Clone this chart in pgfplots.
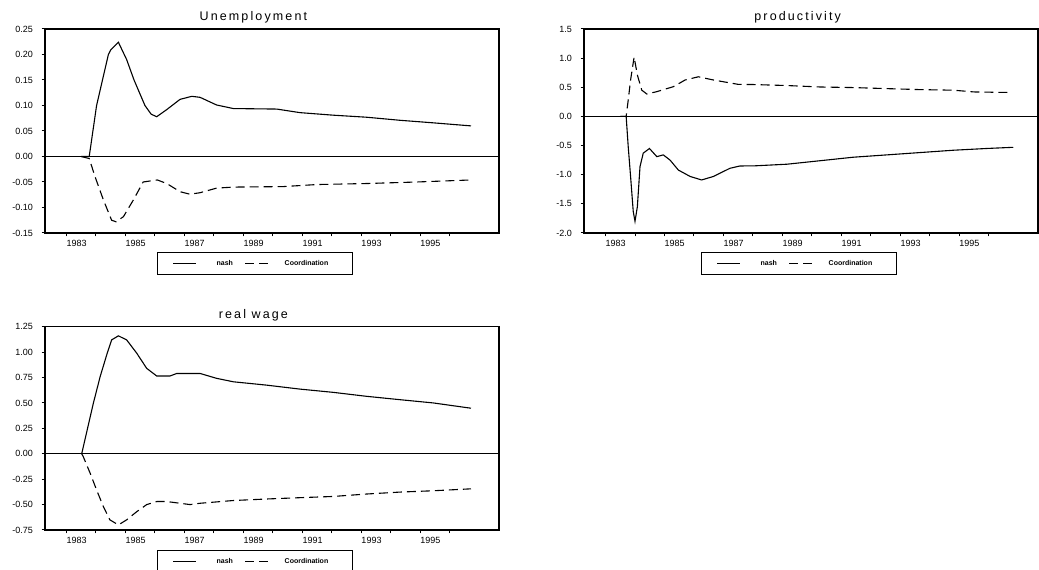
\documentclass[border=0pt]{standalone}
\usepackage{pgfplots}
\pgfplotsset{compat=1.18}
\usepackage{fontspec}
\setmainfont{Liberation Sans}
\newfontfamily\titlefont[LetterSpace=17]{Liberation Sans}

\pgfplotsset{
  nash/.style={black, solid, line width=1.1pt},
  coord/.style={black, line width=1.1pt, dash pattern=on 9pt off 5pt},
  eviews/.style={
    scale only axis, width=454pt, height=204pt,
    xmin=1982.27, xmax=1997.67,
    axis line style={line width=1.2pt},
    tick align=outside, major tick length=3.5pt,
    tick style={line width=1pt, black},
    xtick={1983,...,1996},
    xticklabels={1983,,1985,,1987,,1989,,1991,,1993,,1995,},
    xtick pos=bottom, ytick pos=left,
    ticklabel style={font=\fontsize{9}{10}\selectfont},
    xticklabel style={anchor=north west, inner sep=0pt, yshift=-4pt},
    yticklabel style={anchor=east, inner sep=0pt, xshift=-8.5pt},
    title style={font=\titlefont\fontsize{12.5}{14}\selectfont, anchor=base, inner sep=0pt, yshift=2.3pt},
    legend style={draw=black, line width=1pt, font=\fontsize{7}{8}\selectfont\bfseries,
      legend columns=2, inner xsep=15pt, inner ysep=0pt, nodes={inner sep=0pt}, column sep=0pt},
    legend cell align=left,
    legend image code/.code={\path[draw=none,fill=none] (0pt,-11pt) rectangle (0.1pt,11pt); \draw[##1,line width=1.1pt] (0pt,0pt) -- (23pt,0pt);},
  }
}

\begin{document}
\begin{tikzpicture}[x=1pt,y=1pt]
\useasboundingbox (0,0) rectangle (1039,570);

% Unemployment
\begin{axis}[eviews, at={(45pt,337pt)}, anchor=south west,
  ymin=-0.15, ymax=0.25,
  ytick={-0.15,-0.10,-0.05,0,0.05,0.10,0.15,0.20,0.25},
  yticklabels={-0.15,-0.10,-0.05,0.00,0.05,0.10,0.15,0.20,0.25},
  title={Unemployment}, title style={at={(0.459,1)}},
  legend style={at={(0.2467,-0.0931)}, anchor=north west},
]
\addplot[nash] coordinates {(1983.5,0) (1983.77,0.0) (1984.02,0.10) (1984.42,0.20) (1984.50,0.209) (1984.76,0.224) (1985.04,0.19) (1985.29,0.15) (1985.66,0.10) (1985.87,0.083) (1986.06,0.078) (1986.40,0.092) (1986.85,0.112) (1987.25,0.118) (1987.53,0.116) (1988.09,0.101) (1988.66,0.094) (1990.13,0.093) (1990.92,0.086) (1992.05,0.081) (1993.18,0.077) (1994.31,0.071) (1995.44,0.066) (1996.72,0.060)};
\addlegendentry{\hspace*{20pt}nash\hspace*{11.7pt}}
\addplot[coord] coordinates {(1983.5,0) (1983.77,-0.004) (1983.97,-0.040) (1984.25,-0.085) (1984.53,-0.125) (1984.68,-0.128) (1984.93,-0.118) (1985.27,-0.085) (1985.60,-0.050) (1986.08,-0.046) (1986.40,-0.053) (1986.85,-0.069) (1987.19,-0.074) (1987.53,-0.071) (1988.09,-0.062) (1988.66,-0.060) (1990.35,-0.059) (1991.49,-0.055) (1993.18,-0.053) (1994.88,-0.050) (1996.72,-0.046)};
\addlegendentry{\hspace*{16pt}Coordination\hspace*{9pt}}
\addplot[black, line width=1.2pt, forget plot] coordinates {(1982.27,0) (1997.67,0)};
\end{axis}

% productivity
\begin{axis}[eviews, at={(584pt,337pt)}, anchor=south west,
  ymin=-2.0, ymax=1.5,
  ytick={-2.0,-1.5,-1.0,-0.5,0,0.5,1.0,1.5},
  yticklabels={-2.0,-1.5,-1.0,-0.5,0.0,0.5,1.0,1.5},
  title={productivity}, title style={at={(0.4707,1)}},
  legend style={at={(0.2577,-0.0931)}, anchor=north west},
]
\addplot[nash] coordinates {(1983.5,0) (1983.70,0.0) (1983.77,-0.52) (1983.85,-1.03) (1983.94,-1.63) (1984.00,-1.80) (1984.08,-1.55) (1984.17,-0.86) (1984.28,-0.63) (1984.49,-0.55) (1984.74,-0.69) (1984.96,-0.66) (1985.19,-0.75) (1985.47,-0.92) (1985.87,-1.03) (1986.26,-1.09) (1986.66,-1.03) (1987.22,-0.89) (1987.56,-0.85) (1988.01,-0.849) (1989.15,-0.82) (1990.28,-0.76) (1991.40,-0.70) (1992.54,-0.66) (1993.67,-0.62) (1994.80,-0.58) (1995.93,-0.55) (1996.83,-0.53)};
\addlegendentry{\hspace*{20pt}nash\hspace*{11.7pt}}
\addplot[coord] coordinates {(1983.5,0) (1983.70,0.0) (1983.77,0.28) (1983.85,0.625) (1983.97,1.02) (1984.08,0.71) (1984.23,0.45) (1984.40,0.385) (1984.74,0.425) (1985.30,0.51) (1985.70,0.625) (1986.15,0.68) (1986.66,0.625) (1987.22,0.575) (1987.5,0.55) (1988.01,0.547) (1989.15,0.53) (1990.28,0.505) (1991.40,0.495) (1992.54,0.477) (1993.67,0.46) (1994.80,0.45) (1995.5,0.42) (1996.8,0.41)};
\addlegendentry{\hspace*{16pt}Coordination\hspace*{9pt}}
\addplot[black, line width=1.2pt, forget plot] coordinates {(1982.27,0) (1997.67,0)};
\end{axis}

% real wage
\begin{axis}[eviews, at={(45pt,40pt)}, anchor=south west, height=203.3pt,
  ymin=-0.75, ymax=1.25,
  ytick={-0.75,-0.5,-0.25,0,0.25,0.5,0.75,1.0,1.25},
  yticklabels={-0.75,-0.50,-0.25,0.00,0.25,0.50,0.75,1.00,1.25},
  title={real wage}, title style={at={(0.459,1)}},
  legend style={at={(0.2467,-0.098)}, anchor=north west},
]
\addplot[nash] coordinates {(1983.515,0) (1983.91,0.497) (1984.14,0.758) (1984.36,0.97) (1984.53,1.12) (1984.76,1.16) (1985.04,1.12) (1985.38,0.99) (1985.72,0.84) (1986.06,0.765) (1986.51,0.765) (1986.74,0.79) (1987.53,0.79) (1988.09,0.742) (1988.66,0.708) (1989.79,0.675) (1990.92,0.636) (1992.05,0.604) (1993.18,0.565) (1994.31,0.532) (1995.44,0.50) (1996.72,0.448)};
\addlegendentry{\hspace*{20pt}nash\hspace*{11.7pt}}
\addplot[coord] coordinates {(1983.515,0) (1983.57,-0.03) (1983.80,-0.19) (1984.02,-0.356) (1984.25,-0.52) (1984.47,-0.65) (1984.76,-0.70) (1985.04,-0.65) (1985.38,-0.57) (1985.72,-0.50) (1986.06,-0.47) (1986.40,-0.47) (1986.85,-0.487) (1987.19,-0.50) (1987.53,-0.487) (1988.66,-0.46) (1989.79,-0.445) (1990.92,-0.432) (1992.05,-0.42) (1993.18,-0.396) (1994.31,-0.377) (1995.44,-0.364) (1996.72,-0.345)};
\addlegendentry{\hspace*{16pt}Coordination\hspace*{9pt}}
\addplot[black, line width=1.2pt, forget plot] coordinates {(1982.27,0) (1997.67,0)};
\end{axis}
\end{tikzpicture}
\end{document}
